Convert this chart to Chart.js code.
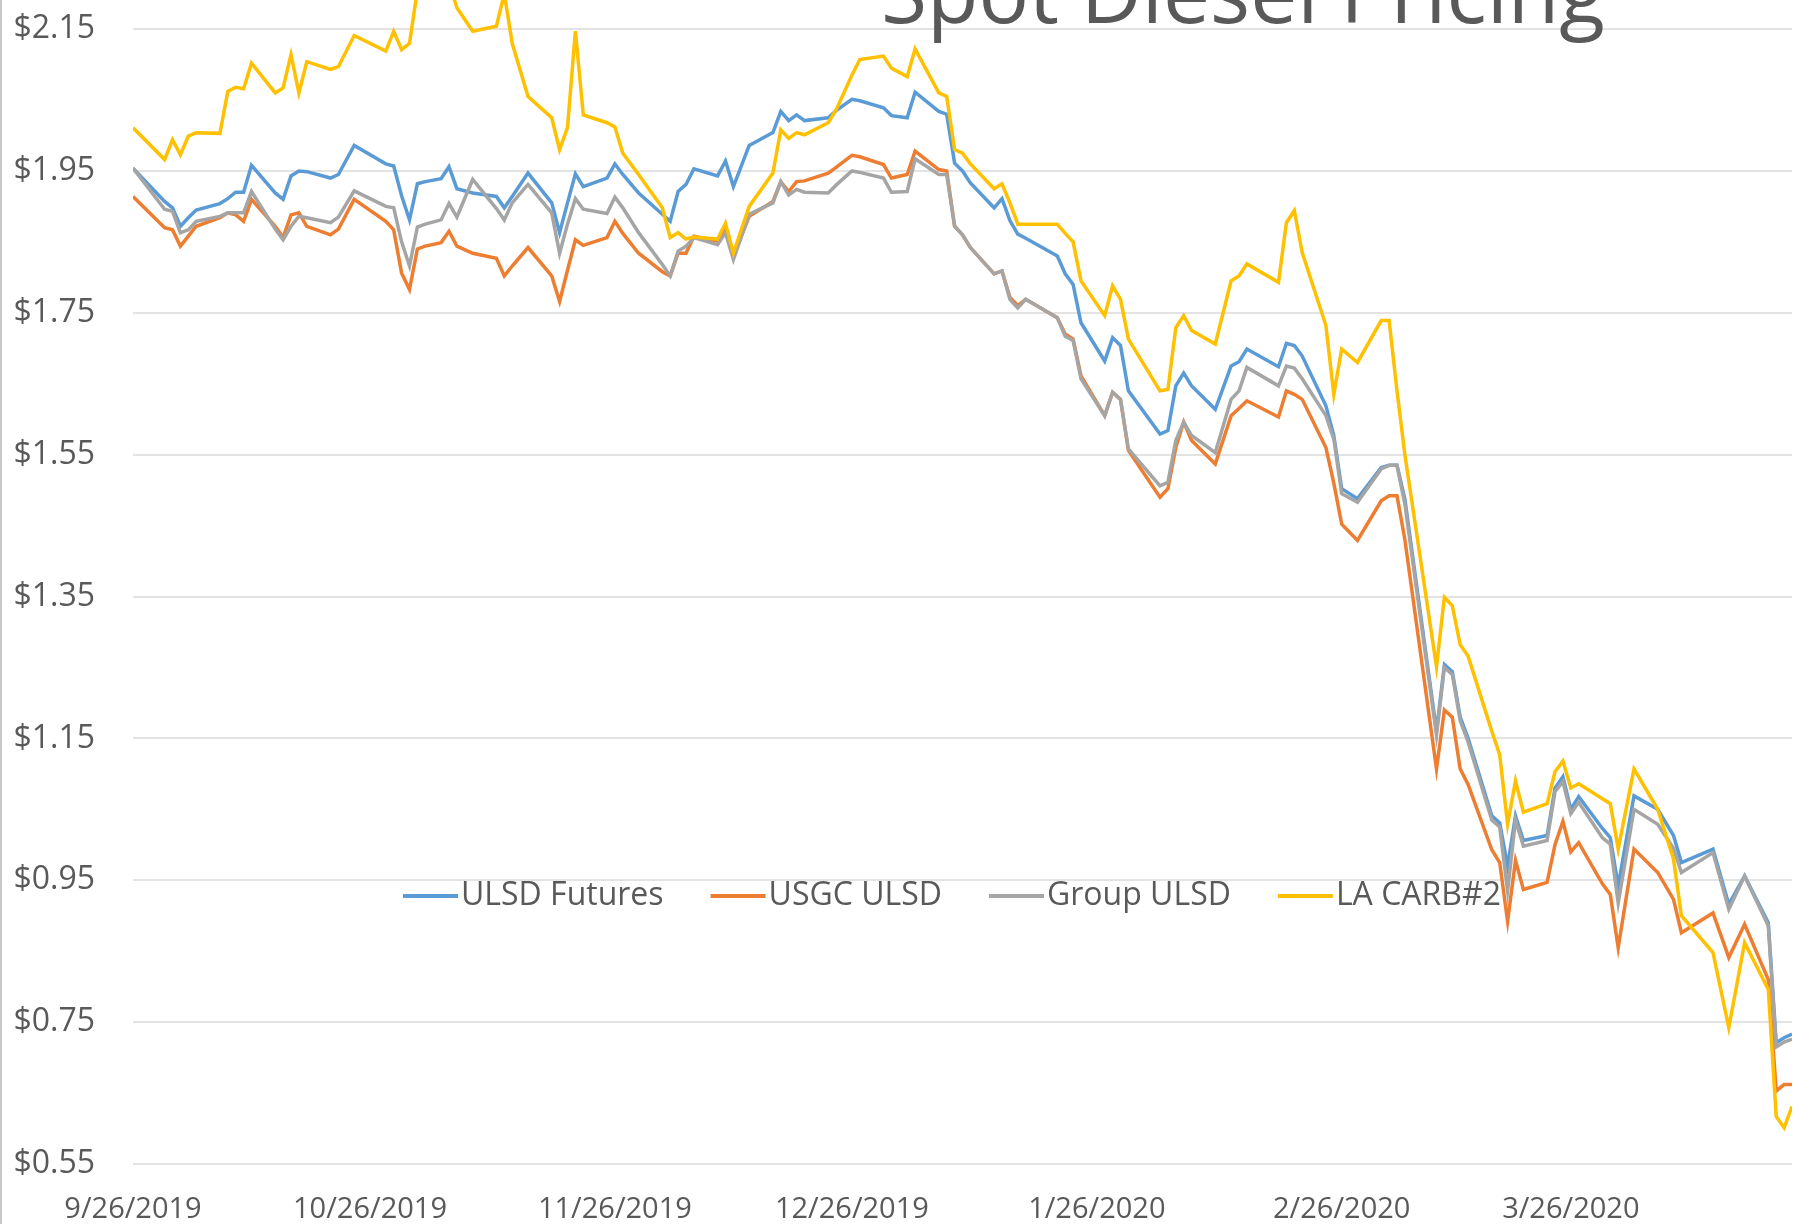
<!DOCTYPE html>
<html>
<head>
<meta charset="utf-8">
<title>Spot Diesel Pricing</title>
<script src="https://cdn.jsdelivr.net/npm/chart.js@4.4.1/dist/chart.umd.min.js"></script>
<style>
  html, body { margin: 0; padding: 0; background: #fff; }
  canvas { display: block; }
</style>
</head>
<body>
<canvas id="diesel-chart" width="1818" height="1224"></canvas>
<script>
// days since 9/26/2019
const dayOffsets = [
    0, 4, 5, 6, 7, 8, 11, 12, 13, 14, 15, 18, 19, 20, 21, 22, 25, 26, 28, 32,
    33, 34, 35, 36, 37, 39, 40, 41, 43, 46, 47, 48, 50, 53, 54, 55, 56, 57, 60, 61,
    62, 64, 67, 68, 69, 70, 71, 74, 75, 76, 78, 81, 82, 83, 84, 85, 88, 89, 91, 92,
    95, 96, 98, 99, 102, 103, 104, 105, 106, 109, 110, 111, 112, 113, 117, 118, 119, 120, 123, 124,
    125, 126, 130, 131, 132, 133, 134, 137, 139, 140, 141, 145, 146, 147, 148, 151, 152, 153, 155, 158,
    159, 160, 161, 165, 166, 167, 168, 169, 172, 173, 174, 175, 176, 179, 180, 181, 182, 183, 186, 187,
    188, 190, 193, 195, 196, 200, 202, 204, 207, 208, 209, 210
];

const ulsdFutures = [
    1.954, 1.907, 1.898, 1.872, 1.884, 1.895, 1.904, 1.911, 1.920, 1.920, 1.958, 1.919, 1.910, 1.943, 1.950, 1.949, 1.940, 1.945, 1.986, 1.960,
    1.957, 1.915, 1.881, 1.932, 1.935, 1.939, 1.956, 1.925, 1.919, 1.914, 1.898, 1.914, 1.947, 1.905, 1.863, 1.905, 1.946, 1.928, 1.940, 1.960,
    1.945, 1.919, 1.889, 1.879, 1.921, 1.931, 1.953, 1.943, 1.964, 1.928, 1.986, 2.004, 2.034, 2.021, 2.029, 2.021, 2.025, 2.035, 2.051, 2.049,
    2.039, 2.028, 2.025, 2.061, 2.034, 2.030, 1.961, 1.950, 1.933, 1.898, 1.911, 1.880, 1.861, 1.855, 1.830, 1.805, 1.790, 1.736, 1.682, 1.715,
    1.704, 1.640, 1.579, 1.584, 1.647, 1.665, 1.647, 1.614, 1.675, 1.681, 1.699, 1.674, 1.707, 1.704, 1.689, 1.619, 1.577, 1.502, 1.488, 1.532,
    1.535, 1.535, 1.487, 1.160, 1.254, 1.244, 1.180, 1.150, 1.041, 1.031, 0.970, 1.041, 1.006, 1.013, 1.080, 1.096, 1.050, 1.068, 1.023, 1.010,
    0.942, 1.069, 1.050, 1.013, 0.975, 0.994, 0.916, 0.956, 0.890, 0.721, 0.728, 0.733
];

const usgcUlsd = [
    1.914, 1.870, 1.867, 1.844, 1.858, 1.872, 1.884, 1.891, 1.888, 1.879, 1.910, 1.872, 1.856, 1.888, 1.891, 1.872, 1.860, 1.868, 1.910, 1.879,
    1.867, 1.806, 1.783, 1.840, 1.844, 1.849, 1.865, 1.844, 1.834, 1.827, 1.802, 1.816, 1.842, 1.802, 1.766, 1.810, 1.853, 1.845, 1.856, 1.879,
    1.862, 1.834, 1.808, 1.802, 1.834, 1.834, 1.858, 1.851, 1.867, 1.830, 1.886, 1.907, 1.935, 1.921, 1.935, 1.936, 1.947, 1.955, 1.972, 1.970,
    1.959, 1.940, 1.945, 1.978, 1.952, 1.950, 1.872, 1.860, 1.842, 1.805, 1.809, 1.772, 1.760, 1.769, 1.743, 1.720, 1.713, 1.661, 1.605, 1.638,
    1.628, 1.556, 1.490, 1.502, 1.560, 1.596, 1.570, 1.537, 1.605, 1.615, 1.626, 1.603, 1.640, 1.635, 1.628, 1.560, 1.510, 1.452, 1.429, 1.485,
    1.492, 1.492, 1.430, 1.107, 1.190, 1.180, 1.107, 1.085, 0.993, 0.975, 0.892, 0.978, 0.937, 0.947, 1.000, 1.033, 0.990, 1.003, 0.945, 0.930,
    0.855, 0.994, 0.961, 0.923, 0.876, 0.904, 0.841, 0.888, 0.810, 0.653, 0.662, 0.662
];

const groupUlsd = [
    1.954, 1.896, 1.893, 1.863, 1.867, 1.879, 1.886, 1.891, 1.891, 1.891, 1.921, 1.868, 1.853, 1.872, 1.886, 1.884, 1.877, 1.885, 1.922, 1.900,
    1.898, 1.850, 1.816, 1.871, 1.875, 1.881, 1.904, 1.885, 1.938, 1.897, 1.881, 1.905, 1.931, 1.891, 1.834, 1.875, 1.911, 1.896, 1.890, 1.913,
    1.898, 1.863, 1.818, 1.802, 1.837, 1.844, 1.856, 1.846, 1.863, 1.825, 1.889, 1.905, 1.935, 1.916, 1.924, 1.920, 1.919, 1.930, 1.950, 1.948,
    1.940, 1.920, 1.921, 1.967, 1.945, 1.945, 1.872, 1.860, 1.842, 1.805, 1.809, 1.769, 1.757, 1.769, 1.743, 1.717, 1.711, 1.657, 1.605, 1.638,
    1.628, 1.558, 1.506, 1.511, 1.570, 1.596, 1.577, 1.553, 1.628, 1.640, 1.673, 1.647, 1.675, 1.672, 1.657, 1.605, 1.572, 1.495, 1.483, 1.530,
    1.535, 1.535, 1.480, 1.155, 1.250, 1.240, 1.175, 1.145, 1.035, 1.025, 0.935, 1.035, 0.998, 1.006, 1.075, 1.089, 1.044, 1.060, 1.010, 1.001,
    0.918, 1.050, 1.029, 0.995, 0.961, 0.989, 0.909, 0.956, 0.886, 0.715, 0.722, 0.726
];

const laCarb2 = [
    2.011, 1.966, 1.994, 1.973, 1.999, 2.004, 2.003, 2.062, 2.068, 2.066, 2.102, 2.060, 2.067, 2.114, 2.060, 2.104, 2.093, 2.097, 2.141, 2.119,
    2.147, 2.121, 2.130, 2.205, 2.240, 2.230, 2.215, 2.180, 2.147, 2.154, 2.200, 2.130, 2.055, 2.025, 1.980, 2.011, 2.147, 2.029, 2.018, 2.012,
    1.975, 1.945, 1.898, 1.856, 1.863, 1.854, 1.857, 1.854, 1.876, 1.834, 1.900, 1.947, 2.008, 1.996, 2.004, 2.001, 2.018, 2.036, 2.085, 2.107,
    2.112, 2.095, 2.083, 2.122, 2.060, 2.055, 1.980, 1.975, 1.960, 1.925, 1.932, 1.905, 1.875, 1.875, 1.875, 1.862, 1.850, 1.795, 1.746, 1.788,
    1.769, 1.713, 1.640, 1.642, 1.729, 1.746, 1.725, 1.706, 1.795, 1.802, 1.819, 1.793, 1.877, 1.894, 1.835, 1.732, 1.635, 1.699, 1.680, 1.739,
    1.739, 1.640, 1.550, 1.251, 1.349, 1.337, 1.282, 1.266, 1.160, 1.127, 1.029, 1.090, 1.046, 1.058, 1.103, 1.118, 1.080, 1.086, 1.065, 1.058,
    0.994, 1.107, 1.050, 0.980, 0.900, 0.848, 0.742, 0.862, 0.796, 0.617, 0.601, 0.631
];

const tickDays = [0, 30, 61, 91, 122, 153, 182];
const tickLabels = ['9/26/2019', '10/26/2019', '11/26/2019', '12/26/2019', '1/26/2020', '2/26/2020', '3/26/2020'];
const yTicks = [0.55, 0.75, 0.95, 1.15, 1.35, 1.55, 1.75, 1.95, 2.15];

const seriesNames = ['ULSD Futures', 'USGC ULSD', 'Group ULSD', 'LA CARB#2'];
const seriesColors = ['#5B9BD5', '#ED7D31', '#A5A5A5', '#FFC000'];
const seriesValues = [ulsdFutures, usgcUlsd, groupUlsd, laCarb2];

const textColor = '#595959';
const fontFamily = '"Open Sans", "Liberation Sans", sans-serif';

// title sits partly cut off at the top edge, as in the source image
const titlePlugin = {
    id: 'cutTitle',
    afterDraw(chart) {
        const ctx = chart.ctx;
        ctx.save();
        ctx.fillStyle = textColor;
        ctx.font = '84px ' + fontFamily;
        ctx.textAlign = 'center';
        ctx.textBaseline = 'alphabetic';
        ctx.fillText('Spot Diesel Pricing', 1243, 23);
        // thin frame edge on the left
        ctx.fillStyle = '#c8c8c8';
        ctx.fillRect(0, 0, 2, chart.height);
        ctx.restore();
    }
};

// legend drawn inside the plot area
const insideLegend = {
    id: 'insideLegend',
    afterDatasetsDraw(chart) {
        const ctx = chart.ctx;
        ctx.save();
        ctx.font = '32px ' + fontFamily;
        ctx.textBaseline = 'middle';
        let x = 403;
        const y = 896;
        chart.data.datasets.forEach(ds => {
            ctx.strokeStyle = ds.borderColor;
            ctx.lineWidth = 4;
            ctx.beginPath();
            ctx.moveTo(x, y);
            ctx.lineTo(x + 55, y);
            ctx.stroke();
            ctx.fillStyle = textColor;
            ctx.fillText(ds.label, x + 58, y);
            x += 58 + ctx.measureText(ds.label).width + 47;
        });
        ctx.restore();
    }
};

const ctx = document.getElementById('diesel-chart').getContext('2d');
new Chart(ctx, {
    type: 'line',
    data: {
        datasets: seriesNames.map((name, i) => ({
            label: name,
            data: dayOffsets.map((d, j) => ({ x: d, y: seriesValues[i][j] })),
            borderColor: seriesColors[i],
            backgroundColor: seriesColors[i],
            borderWidth: 3.5,
            pointRadius: 0,
            tension: 0,
            fill: false,
            order: 3 - i, // later series on top
        }))
    },
    options: {
        responsive: false,
        animation: false,
        devicePixelRatio: 1,
        layout: { padding: { left: 0, right: 26, top: 0, bottom: 0 } },
        scales: {
            x: {
                type: 'linear',
                min: 0,
                max: 210,
                afterBuildTicks: s => { s.ticks = tickDays.map(v => ({ value: v })); },
                afterFit: s => { s.height = 60; s.paddingLeft = 0; s.paddingRight = 0; },
                grid: { display: false },
                border: { display: false },
                ticks: {
                    autoSkip: false,
                    maxRotation: 0,
                    padding: 20,
                    color: textColor,
                    font: { family: fontFamily, size: 29 },
                    callback: v => tickLabels[tickDays.indexOf(v)]
                }
            },
            y: {
                min: 0.55,
                max: 2.191,
                afterBuildTicks: s => { s.ticks = yTicks.map(v => ({ value: v })); },
                afterFit: s => { s.width = 133; s.paddingTop = 0; s.paddingBottom = 0; },
                grid: { color: '#e3e3e3', lineWidth: 2, drawTicks: false },
                border: { display: false },
                ticks: {
                    padding: 38,
                    color: textColor,
                    font: { family: fontFamily, size: 32 },
                    callback: v => '$' + v.toFixed(2)
                }
            }
        },
        plugins: {
            legend: { display: false },
            tooltip: { enabled: false }
        }
    },
    plugins: [insideLegend, titlePlugin]
});
</script>
</body>
</html>
